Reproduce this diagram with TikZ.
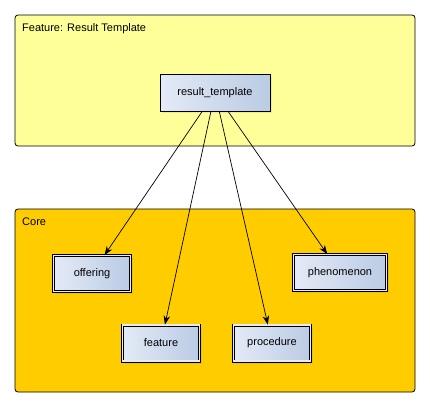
\documentclass[tikz,border=0pt]{standalone}
\usepackage{fontspec}
\setmainfont{Liberation Sans}
\usetikzlibrary{arrows.meta,shadows}
\definecolor{featY}{HTML}{FFFF99}
\definecolor{coreY}{HTML}{FFCC00}
\definecolor{nodeL}{HTML}{E4EAF6}
\definecolor{nodeR}{HTML}{BACBE4}
\begin{document}
\begin{tikzpicture}[x=1pt,y=-1pt,
  font=\fontsize{11}{13}\selectfont,
  groupbox/.style={draw=black, line width=0.8pt, rounded corners=3pt},
  grouplabel/.style={anchor=west, inner sep=0pt},
  classbox/.style={rectangle, draw=black, line width=0.8pt, left color=nodeL, right color=nodeR,
    drop shadow={opacity=0.15, shadow xshift=2pt, shadow yshift=-2pt}},
  corebox/.style={rectangle, draw=black, line width=0.7pt, double=nodeL, double distance=1.6pt,
    left color=nodeL, right color=nodeR,
    drop shadow={opacity=0.15, shadow xshift=2.5pt, shadow yshift=-2.5pt}},
  arr/.style={draw=black, line width=0.7pt, -{Stealth[length=9pt,width=6.5pt]}}
]
\useasboundingbox (0,0) rectangle (430,408);
\fill[white] (0,0) rectangle (430,408);
\draw[groupbox, fill=featY] (15,15) rectangle (415,146);
\node[grouplabel] (featlabel) at (22,29) {Feature: Result Template};
\draw[groupbox, fill=coreY] (15,209) rectangle (415,392);
\node[grouplabel] (corelabel) at (22,222) {Core};

\node[classbox, minimum width=110pt, minimum height=37pt] (rt) at (215,92.5) {result\_template};
\node[corebox, minimum width=77pt, minimum height=36pt] (off) at (92,273.5) {offering};
\node[corebox, minimum width=77pt, minimum height=36pt] (fea) at (161,343) {feature};
\node[corebox, minimum width=77pt, minimum height=36pt] (proc) at (272,343) {procedure};
\node[corebox, minimum width=93pt, minimum height=36pt] (phen) at (340,272.5) {phenomenon};

\draw[arr] (rt) -- (off);
\draw[arr] (rt) -- (fea);
\draw[arr] (rt) -- (proc);
\draw[arr] (rt) -- (phen);
\end{tikzpicture}
\end{document}
